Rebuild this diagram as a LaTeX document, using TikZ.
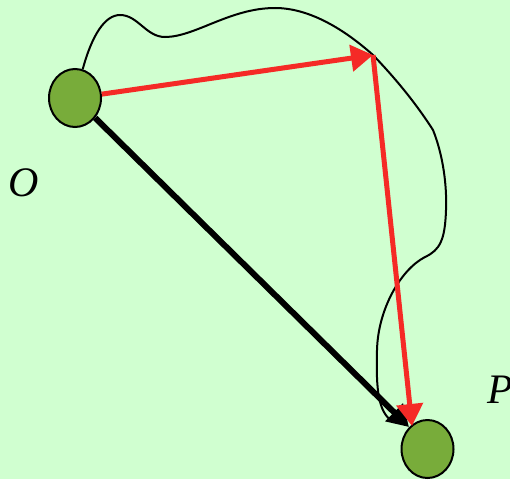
\documentclass[tikz,border=0pt]{standalone}
\usepackage{fontspec}
\setmainfont{Liberation Serif}
\usetikzlibrary{shapes.geometric,arrows.meta}
\definecolor{bggreen}{RGB}{208,255,208}
\definecolor{ballgreen}{RGB}{120,172,58}
\definecolor{arrred}{RGB}{245,42,38}
\tikzset{
  ball/.style={ellipse,draw=black,line width=2pt,fill=ballgreen,minimum width=52pt,minimum height=58pt,inner sep=0pt},
  lbl/.style={font=\fontsize{42}{50}\selectfont\itshape,inner sep=0pt},
  redarrow/.style={draw=arrred,line width=5pt,-{Triangle[length=22pt,width=26pt]}},
  blackarrow/.style={draw=black,line width=6pt,-{Triangle[length=21pt,width=24pt]}},
  pathcurve/.style={draw=black,line width=2pt}
}
\begin{document}
\begin{tikzpicture}[x=1pt,y=-1pt]
\fill[bggreen] (0,0) rectangle (510,479);
\useasboundingbox (0,0) rectangle (510,479);
\node[ball] (O) at (75,98) {};
\node[ball] (P) at (427.5,449) {};
\node[lbl] (Olbl) at (24,183) {O};
\node[lbl,anchor=base west] (Plbl) at (487,403) {P};
\coordinate (m) at (373,55);
\coordinate (redtip) at (412,426);
\coordinate (blacktip) at (409,427);
\coordinate (cend) at (393,422);
% wiggly path
\draw[pathcurve] (O.75) .. controls (92,35) and (105,15) .. (120,15)
  .. controls (138,15) and (146,37) .. (165,37)
  .. controls (195,37) and (230,8) .. (275,8)
  .. controls (310,8) and (345,30) .. (m)
  .. controls (395,78) and (415,102) .. (433,130)
  .. controls (443,155) and (447,185) .. (446,210)
  .. controls (445,240) and (440,250) .. (425,257)
  .. controls (400,270) and (378,310) .. (377,350)
  .. controls (376,390) and (378,412) .. (cend);
\draw[blackarrow] (O) -- (blacktip);
\draw[redarrow] (O) -- (m);
\draw[redarrow] (m) -- (redtip);
\end{tikzpicture}
\end{document}
